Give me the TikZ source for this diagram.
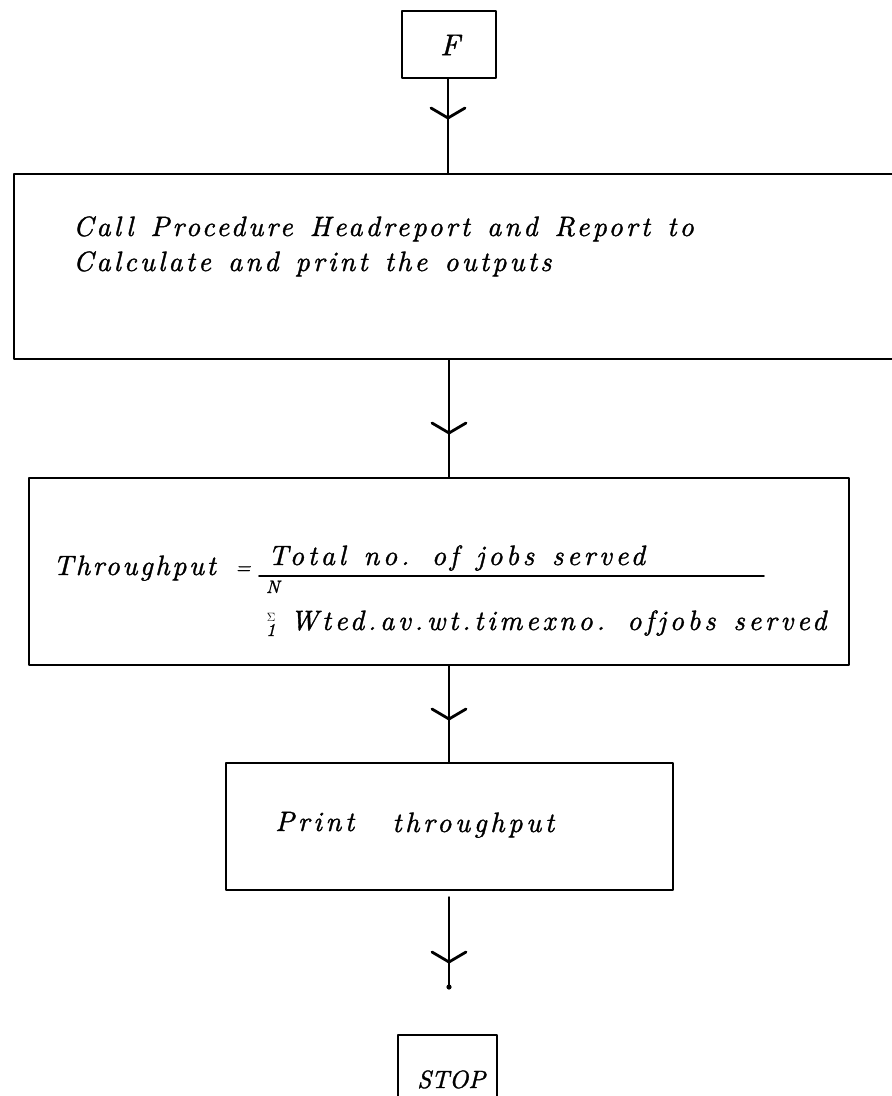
\documentclass[tikz,border=0pt]{standalone}
\usepackage{fontspec}
\usetikzlibrary{calc}
% typed-script look: italic Latin Modern, slightly emboldened, typewriter-like spacing
\newfontfamily\hand{lmroman10-italic.otf}[LetterSpace=13, WordSpace=1.3, FakeBold=1.2]
\newfontfamily\handm{lmroman10-italic.otf}[LetterSpace=11, WordSpace=1.3, FakeBold=1.2]
\newfontfamily\handn{lmroman10-italic.otf}[LetterSpace=9, FakeBold=1.2]
\newfontfamily\handup{lmroman10-italic.otf}[FakeBold=1.2]
\begin{document}
\begin{tikzpicture}[x=1pt,y=-1pt,
  line cap=round, line join=round,
  box/.style={draw, line width=2.3pt, rectangle, anchor=north west, inner sep=0pt},
  conn/.style={line width=2.4pt},
  barb/.style={line width=2.8pt},
  txt/.style={anchor=base west, inner sep=0pt, font=\hand\fontsize{28}{32}\selectfont},
  small/.style={inner sep=0pt, font=\handup\fontsize{18}{20}\selectfont}]
\useasboundingbox (0,0) rectangle (892,1096);
\clip (0,0) rectangle (892,1096);

% boxes
\node[box, minimum width=94pt,  minimum height=67pt]  (F)  at (401,10)   {};
\node[box, minimum width=900pt, minimum height=185pt] (b1) at (13,173)   {};
\node[box, minimum width=820pt, minimum height=187pt] (b2) at (28,477)   {};
\node[box, minimum width=447pt, minimum height=127pt] (b3) at (225,762)  {};
\node[box, minimum width=99pt,  minimum height=90pt]  (st) at (397,1034) {};

% box texts
\node[inner sep=0pt, font=\handup\fontsize{30}{32}\selectfont] (tF) at (450,45) {F};
\node[txt, font=\handm\fontsize{28}{32}\selectfont] (t1a) at (73,236) {Call Procedure Headreport and Report to};
\node[txt, font=\handm\fontsize{28}{32}\selectfont] (t1b) at (73,271) {Calculate and print the outputs};
\node[txt, font=\handn\fontsize{28}{32}\selectfont] (t2) at (53,575) {Throughput};
\node[inner sep=0pt, font=\handup\fontsize{20}{22}\selectfont] (eq) at (243,570) {=};
\node[txt] (num) at (268,565) {Total no. of jobs served};
\coordinate (fl) at (259,576);
\coordinate (fr) at (764,576);
\node[small, anchor=base west] (nN) at (266,593) {N};
\node[inner sep=0pt, font=\fontsize{13}{14}\selectfont] (sig) at (271,617) {$\Sigma$};
\node[small, anchor=base west] (one) at (266,636) {1};
\node[txt] (den) at (290,630) {Wted.av.wt.timexno. ofjobs served};
\node[txt] (t3a) at (275,831) {Print};
\node[txt] (t3b) at (392,832) {throughput};
\node[anchor=base west, inner sep=0pt, font=\handup\fontsize{25}{27}\selectfont] (tS) at (417,1088) {STOP};

% fraction bar
\draw[line width=1.6pt] (fl) -- (fr);

% connector x positions and arrow vertices
\coordinate (x0) at (448,0);
\coordinate (x1) at (449,0);
\coordinate (v1) at (448,118);
\coordinate (v2) at (449,433);
\coordinate (v3) at (449,719);
\coordinate (v4) at (449,962);
\coordinate (end) at (449,987);

\draw[conn] (F.south -| x0) -- (b1.north -| x0);
\draw[conn] (b1.south -| x1) -- (b2.north -| x1);
\draw[conn] (b2.south -| x1) -- (b3.north -| x1);
\draw[conn] ($(b3.south -| x1)+(0,6)$) -- (end);
\fill (end) circle (2.6pt);

\foreach \v in {v1,v2,v3,v4}
  \draw[barb] ($(\v)+(-17,-10)$) -- (\v) -- ($(\v)+(17,-10)$);
\end{tikzpicture}
\end{document}
